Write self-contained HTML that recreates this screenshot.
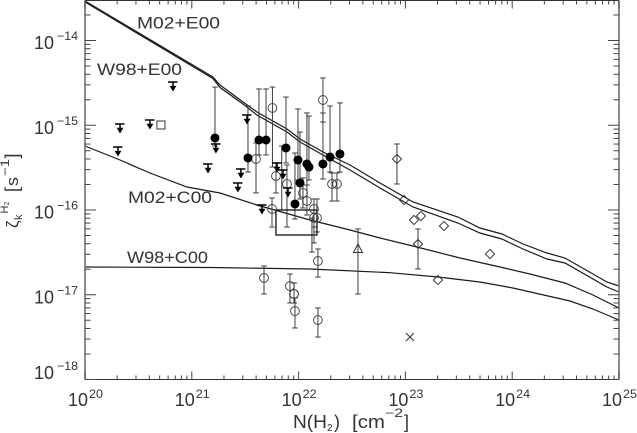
<!DOCTYPE html>
<html lang="en">
<head>
<meta charset="utf-8">
<title>Cosmic-ray ionization rate versus H2 column density</title>
<style>
html,body{margin:0;padding:0;background:#fff;width:637px;height:433px;overflow:hidden}
svg{display:block}
text{font-family:"Liberation Sans","DejaVu Sans",sans-serif;fill:#333}
</style>
</head>
<body>
<svg id="chart" xmlns="http://www.w3.org/2000/svg" width="637" height="433" viewBox="0 0 637 433">
  <rect x="0" y="0" width="637" height="433" fill="#fff"/>
  <g id="curves"></g>
  <g id="bars"></g>
  <g id="marks"></g>
  <g id="axes"></g>
  <g id="labels"></g>

  <text x="137" y="28.5" font-size="16.5" textLength="83" lengthAdjust="spacingAndGlyphs">M02+E00</text>
  <text x="97" y="75" font-size="16.5" textLength="85" lengthAdjust="spacingAndGlyphs">W98+E00</text>
  <text x="128" y="203" font-size="16.5" textLength="84" lengthAdjust="spacingAndGlyphs">M02+C00</text>
  <text x="127" y="263" font-size="16.5" textLength="81" lengthAdjust="spacingAndGlyphs">W98+C00</text>

  <g>
    <text x="293" y="428" font-size="18" textLength="34" lengthAdjust="spacingAndGlyphs">N(H</text>
    <text x="327" y="431" font-size="10">2</text>
    <text x="334" y="428" font-size="18">)</text>
    <text x="352" y="428" font-size="18" textLength="33" lengthAdjust="spacingAndGlyphs">[cm</text>
    <text x="385" y="417" font-size="12" textLength="18" lengthAdjust="spacingAndGlyphs">&#8722;2</text>
    <text x="404" y="428" font-size="18">]</text>
  </g>
  <g>
    <text transform="translate(18,228) rotate(-90)" font-size="17">&#950;</text>
    <text transform="translate(22,220) rotate(-90)" font-size="11">k</text>
    <text transform="translate(8,213.5) rotate(-90)" font-size="11">H</text>
    <text transform="translate(9,205.5) rotate(-90)" font-size="7">2</text>
    <text transform="translate(18,192) rotate(-90)" font-size="18">[</text>
    <text transform="translate(18,186) rotate(-90)" font-size="17" textLength="9" lengthAdjust="spacingAndGlyphs">s</text>
    <text transform="translate(9,176) rotate(-90)" font-size="12" textLength="17" lengthAdjust="spacingAndGlyphs">&#8722;1</text>
    <text transform="translate(18,158.5) rotate(-90)" font-size="18">]</text>
  </g>
</svg>
<script>
// Axis ranges (log10 values)
const xTickExponents = [20, 21, 22, 23, 24, 25];
const yTickExponents = [-18, -17, -16, -15, -14];
const xTickLabels = ["20", "21", "22", "23", "24", "25"];
const yTickLabels = ["\u221218", "\u221217", "\u221216", "\u221215", "\u221214"];

// Model curves: log10 N(H2) and log10 zeta
const m02e00LogN = [20, 21.198, 21.264, 21.479, 21.61, 21.891, 22.013, 22.228, 22.481, 22.762, 23.071, 23.492, 23.698, 23.904, 24.101, 24.326, 24.494, 24.887, 25];
const m02e00LogZ = [-13.534, -14.431, -14.525, -14.726, -14.844, -15.044, -15.162, -15.316, -15.469, -15.681, -15.906, -16.083, -16.212, -16.283, -16.401, -16.507, -16.566, -16.85, -16.897];
const w98e00LogN = [20, 21.198, 21.264, 21.479, 21.61, 21.891, 22.013, 22.228, 22.481, 22.762, 23.071, 23.492, 23.698, 23.904, 24.101, 24.326, 24.494, 24.887, 25];
const w98e00LogZ = [-13.546, -14.448, -14.555, -14.749, -14.879, -15.08, -15.198, -15.351, -15.528, -15.74, -15.965, -16.153, -16.271, -16.342, -16.46, -16.578, -16.625, -16.909, -16.968];
const m02c00LogN = [20, 20.328, 20.608, 20.955, 21.264, 21.61, 22.107, 22.481, 22.762, 23.108, 23.511, 23.886, 24.166, 24.494, 24.756, 25];
const m02c00LogZ = [-15.245, -15.41, -15.563, -15.729, -15.799, -15.941, -16.118, -16.236, -16.33, -16.437, -16.566, -16.673, -16.755, -16.861, -17.003, -17.156];
const w98c00LogN = [20, 21.17, 22.107, 22.856, 23.305, 23.698, 24.007, 24.541, 24.756, 25];
const w98c00LogZ = [-16.673, -16.679, -16.696, -16.74, -16.791, -16.85, -16.92, -17.074, -17.168, -17.298];

// Filled circles
const filledLogN = [21.217, 21.526, 21.629, 21.695, 21.882, 21.994, 22.078, 22.097, 22.013, 21.966, 22.228, 22.294, 22.387];
const filledLogZ = [-15.15, -15.386, -15.174, -15.174, -15.268, -15.41, -15.457, -15.493, -15.681, -15.929, -15.457, -15.375, -15.339];
const filledHigh = [-14.549, -14.773, -14.572, -14.572, -14.667, -14.808, -14.855, -14.891, -15.08, -15.327, -14.855, -14.773, -14.737];
const filledLow = [-15.245, -15.552, -15.351, -15.351, -15.445, -15.646, -15.705, -15.646, -15.87, -16.106, -15.634, -15.552, -15.552];

// Open circles
const openLogN = [21.755, 21.601, 21.788, 21.891, 22.041, 22.078, 21.751, 22.144, 22.144, 22.172, 22.228, 22.313, 22.359, 21.676, 21.919, 21.957, 21.957, 21.966, 22.181, 22.181];
const openLogZ = [-14.796, -15.398, -15.599, -15.693, -15.799, -15.894, -15.988, -15.988, -16.094, -16.094, -14.702, -15.693, -15.693, -16.802, -16.897, -16.991, -16.991, -17.192, -16.602, -17.298];
const openHigh = [-14.549, -15.209, -15.445, -15.469, -15.622, -15.705, -15.858, -15.87, -15.87, -15.87, -14.442, -15.563, -15.563, -16.661, -16.755, -16.861, -16.861, -17.038, -16.46, -17.156];
const openLow = [-15.493, -15.799, -15.799, -16.201, -15.976, -16.059, -16.201, -16.201, -16.389, -16.259, -14.962, -15.894, -15.894, -16.991, -17.097, -17.097, -17.097, -17.392, -16.791, -17.499];

// Error bars whose symbol is hidden in the cluster
const bareLogN = [21.842, 22.125];
const bareHigh = [-15.245, -16.094];
const bareLow = [-16.0, -16.496];

// Upper limits
const limitLogN = [20.824, 20.328, 20.309, 20.608, 21.152, 21.226, 21.517, 21.46, 21.432, 21.657, 21.798, 21.854, 21.901];
const limitLogZ = [-14.49, -14.985, -15.257, -14.938, -15.457, -15.221, -14.879, -15.516, -15.681, -15.941, -15.445, -15.528, -15.74];

// Diamonds
const diamondLogN = [22.921, 22.987, 23.146, 23.08, 23.361, 23.118, 23.792, 23.305];
const diamondLogZ = [-15.398, -15.882, -16.071, -16.118, -16.189, -16.401, -16.519, -16.826];
const diamondHigh = [-15.221, null, null, null, null, -16.224, null, null];
const diamondLow = [-15.693, null, null, null, null, -16.696, null, null];

// Single markers
const triangleLogN = [22.556];
const triangleLogZ = [-16.46];
const triangleHigh = [-16.224];
const triangleLow = [-16.991];
const squareLogN = [20.711];
const squareLogZ = [-14.997];
const crossLogN = [23.043];
const crossLogZ = [-17.499];
const regionLogN = [21.788, 22.172];
const regionLogZ = [-16.0, -16.295];

const NS = 'http://www.w3.org/2000/svg';
const AX = { left: 85, right: 619, top: 0.5, bottom: 379.5, perDecadeX: 106.8, perDecadeY: 84.75 };
function xPos(logN) { return AX.left + (logN - 20) * AX.perDecadeX; }
function yPos(logZ) { return AX.bottom - (logZ + 18) * AX.perDecadeY; }
function mk(tag, attrs, parent) {
  const n = document.createElementNS(NS, tag);
  for (const k in attrs) n.setAttribute(k, attrs[k]);
  parent.appendChild(n);
  return n;
}
const gCurves = document.getElementById('curves');
const gBars = document.getElementById('bars');
const gMarks = document.getElementById('marks');
const gAxes = document.getElementById('axes');
const gLabels = document.getElementById('labels');

function drawCurve(name, logN, logZ) {
  const pts = logN.map((v, i) => xPos(v).toFixed(1) + ',' + yPos(logZ[i]).toFixed(1)).join(' ');
  const el = mk('polyline', { points: pts, fill: 'none', stroke: '#1a1a1a', 'stroke-width': 1.2 }, gCurves);
  
  
}
drawCurve('curve-m02-e00', m02e00LogN, m02e00LogZ);
drawCurve('curve-w98-e00', w98e00LogN, w98e00LogZ);
drawCurve('curve-m02-c00', m02c00LogN, m02c00LogZ);
drawCurve('curve-w98-c00', w98c00LogN, w98c00LogZ);

function drawErrorBar(logN, high, low) {
  if (high === null || low === null) return;
  const x = xPos(logN), y1 = yPos(high), y2 = yPos(low);
  const g = mk('g', { stroke: '#3c3c3c', 'stroke-width': 1, fill: 'none' }, gBars);
  
  
  mk('line', { x1: x, x2: x, y1: y1, y2: y2 }, g);
  mk('line', { x1: x - 2.8, x2: x + 2.8, y1: y1, y2: y1 }, g);
  mk('line', { x1: x - 2.8, x2: x + 2.8, y1: y2, y2: y2 }, g);
}
filledLogN.forEach((v, i) => drawErrorBar(v, filledHigh[i], filledLow[i]));
openLogN.forEach((v, i) => drawErrorBar(v, openHigh[i], openLow[i]));
bareLogN.forEach((v, i) => drawErrorBar(v, bareHigh[i], bareLow[i]));
diamondLogN.forEach((v, i) => drawErrorBar(v, diamondHigh[i], diamondLow[i]));
triangleLogN.forEach((v, i) => drawErrorBar(v, triangleHigh[i], triangleLow[i]));

const region = mk('rect', {
  x: xPos(regionLogN[0]), y: yPos(regionLogZ[0]),
  width: xPos(regionLogN[1]) - xPos(regionLogN[0]),
  height: yPos(regionLogZ[1]) - yPos(regionLogZ[0]),
  fill: 'none', stroke: '#111', 'stroke-width': 1.3
}, gMarks);



openLogN.forEach((v, i) => {
  const c = mk('circle', { cx: xPos(v), cy: yPos(openLogZ[i]), r: 4.4, fill: 'none', stroke: '#3a3a3a', 'stroke-width': 0.9 }, gMarks);
  
  
});
filledLogN.forEach((v, i) => {
  const c = mk('circle', { cx: xPos(v), cy: yPos(filledLogZ[i]), r: 4.5, fill: '#000' }, gMarks);
  
  
});
limitLogN.forEach((v, i) => {
  const x = xPos(v), y = yPos(limitLogZ[i]);
  const g = mk('g', {}, gMarks);
  
  
  mk('line', { x1: x - 5, x2: x + 4.5, y1: y, y2: y, stroke: '#000', 'stroke-width': 1.5 }, g);
  mk('line', { x1: x, x2: x, y1: y, y2: y + 6, stroke: '#000', 'stroke-width': 1.5 }, g);
  mk('path', { d: 'M' + (x - 3.4) + ' ' + (y + 3.8) + 'L' + (x + 3.4) + ' ' + (y + 3.8) + 'L' + x + ' ' + (y + 9.5) + 'Z', fill: '#000' }, g);
});
diamondLogN.forEach((v, i) => {
  const x = xPos(v), y = yPos(diamondLogZ[i]), r = 4.6;
  const d = mk('path', { d: 'M' + x + ' ' + (y - r) + 'L' + (x + r) + ' ' + y + 'L' + x + ' ' + (y + r) + 'L' + (x - r) + ' ' + y + 'Z', fill: 'none', stroke: '#333', 'stroke-width': 0.95 }, gMarks);
  
  
});
triangleLogN.forEach((v, i) => {
  const x = xPos(v), y = yPos(triangleLogZ[i]);
  const t = mk('path', { d: 'M' + x + ' ' + (y - 5) + 'L' + (x + 4.5) + ' ' + (y + 3.5) + 'L' + (x - 4.5) + ' ' + (y + 3.5) + 'Z', fill: 'none', stroke: '#333', 'stroke-width': 1 }, gMarks);
  
  
});
squareLogN.forEach((v, i) => {
  const s = mk('rect', { x: xPos(v) - 4, y: yPos(squareLogZ[i]) - 4, width: 8, height: 8, fill: 'none', stroke: '#333', 'stroke-width': 1 }, gMarks);
  
  
});
crossLogN.forEach((v, i) => {
  const x = xPos(v), y = yPos(crossLogZ[i]);
  const c = mk('path', { d: 'M' + (x - 4) + ' ' + (y - 4) + 'L' + (x + 4) + ' ' + (y + 4) + 'M' + (x - 4) + ' ' + (y + 4) + 'L' + (x + 4) + ' ' + (y - 4), fill: 'none', stroke: '#333', 'stroke-width': 1 }, gMarks);
  
  
});

// Frame
const frameTop = mk('line', { x1: AX.left, x2: AX.right, y1: AX.top, y2: AX.top, stroke: '#333', 'stroke-width': 1 }, gAxes);


const frameBottom = mk('line', { x1: AX.left, x2: AX.right, y1: AX.bottom, y2: AX.bottom, stroke: '#333', 'stroke-width': 1 }, gAxes);


const frameLeft = mk('line', { x1: AX.left, x2: AX.left, y1: AX.top, y2: AX.bottom, stroke: '#777', 'stroke-width': 1.7 }, gAxes);


const frameRight = mk('line', { x1: AX.right, x2: AX.right, y1: AX.top, y2: AX.bottom, stroke: '#777', 'stroke-width': 1.7 }, gAxes);



// Ticks
function xTick(logN, len) {
  const x = xPos(logN);
  const a = mk('line', { x1: x, x2: x, y1: AX.bottom, y2: AX.bottom - len, stroke: '#444', 'stroke-width': 1 }, gAxes);
  
  
  const b = mk('line', { x1: x, x2: x, y1: AX.top, y2: AX.top + len, stroke: '#444', 'stroke-width': 1 }, gAxes);
  
  
}
function yTick(logZ, len) {
  const y = yPos(logZ);
  if (y < AX.top) return;
  const a = mk('line', { x1: AX.left, x2: AX.left + len, y1: y, y2: y, stroke: '#444', 'stroke-width': 1 }, gAxes);
  
  
  const b = mk('line', { x1: AX.right, x2: AX.right - len, y1: y, y2: y, stroke: '#444', 'stroke-width': 1 }, gAxes);
  
  
}
xTickExponents.forEach((e, i) => {
  xTick(e, 8);
  if (i < xTickExponents.length - 1) {
    for (let m = 2; m < 10; m++) xTick(e + Math.log10(m), 4);
  }
});
yTickExponents.forEach((e) => {
  yTick(e, 11);
  for (let m = 2; m < 10; m++) yTick(e + Math.log10(m), 5.5);
});

// Tick labels
xTickExponents.forEach((e, i) => {
  const x = xPos(e);
  const base = mk('text', { x: x - 17, y: 406, 'font-size': 18, textLength: 20, lengthAdjust: 'spacingAndGlyphs' }, gLabels);
  base.textContent = '10';
  
  
  const sup = mk('text', { x: x + 4, y: 398, 'font-size': 12, textLength: 14, lengthAdjust: 'spacingAndGlyphs' }, gLabels);
  sup.textContent = xTickLabels[i];
  
  
});
yTickExponents.forEach((e, i) => {
  const baseY = Math.min(yPos(e) + 8.5, 379);
  const base = mk('text', { x: 34, y: baseY, 'font-size': 18, textLength: 20, lengthAdjust: 'spacingAndGlyphs' }, gLabels);
  base.textContent = '10';
  
  
  const sup = mk('text', { x: 57, y: baseY - 9, 'font-size': 12, textLength: 21, lengthAdjust: 'spacingAndGlyphs' }, gLabels);
  sup.textContent = yTickLabels[i];
  
  
});
</script>
</body>
</html>
